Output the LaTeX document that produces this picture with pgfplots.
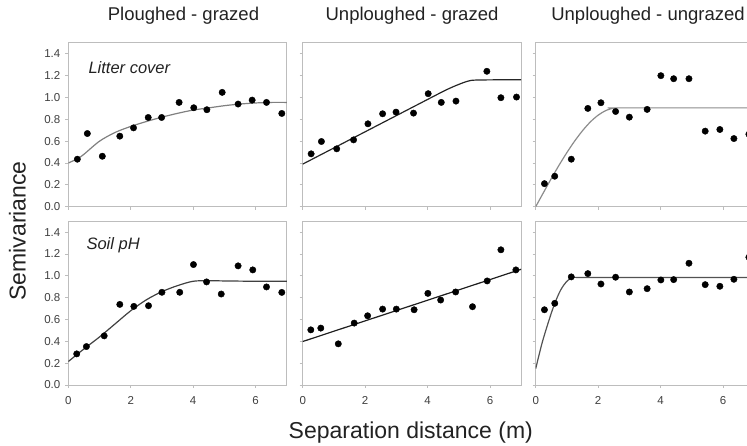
\documentclass[border=0pt]{standalone}
\usepackage{fontspec}
\setmainfont{Liberation Sans}
\usepackage{pgfplots}
\pgfplotsset{compat=1.18}
\definecolor{frame}{HTML}{BDBDBD}
\definecolor{ticktext}{HTML}{404040}
\definecolor{ink}{HTML}{222222}

\pgfplotsset{
  panel/.style={
    scale only axis, width=218.5pt, height=163.8pt,
    xmin=0, xmax=7, ymin=0, ymax=1.5,
    xtick={0,2,4,6}, ytick={0,0.2,0.4,0.6,0.8,1.0,1.2,1.4},
    xticklabels={}, yticklabels={},
    tick pos=left, tick align=outside, major tick length=3pt,
    axis line style={frame, line width=0.8pt},
    tick style={frame, line width=0.8pt},
    ticklabel style={font=\fontsize{11.5}{13}\selectfont, text=ticktext},
    xticklabel style={yshift=-5pt},
    yticklabel style={xshift=-1.5pt},
  },
  xlab/.style={xticklabels={0,2,4,6}},
  ylab/.style={yticklabels={0.0,0.2,0.4,0.6,0.8,1.0,1.2,1.4}},
  dots/.style={only marks, mark=*, mark size=3.2pt, black},
  fit/.style={no marks, smooth, line width=1.2pt},
}
\tikzset{tag/.style={anchor=base west, text=ink, font=\itshape\fontsize{16.5}{18}\selectfont}}

\begin{document}
\begin{tikzpicture}
\useasboundingbox (0,0) rectangle (747pt,445pt);

% top row: litter cover
\begin{axis}[panel, ylab, at={(68.3pt,238.3pt)}, anchor=south west]
  \addplot[dots] coordinates {
    (0.29,0.435) (0.61,0.67) (1.09,0.462) (1.65,0.646) (2.09,0.722)
    (2.56,0.817) (2.99,0.817) (3.55,0.955) (4.02,0.906) (4.44,0.888)
    (4.93,1.047) (5.44,0.94) (5.89,0.976) (6.35,0.955) (6.84,0.854)
  };
  \addplot[fit, color=black!50] coordinates {
    (0,0.40) (0.3,0.44) (0.5,0.48) (1.0,0.60) (1.5,0.68) (2.0,0.735)
    (2.5,0.78) (3.0,0.82) (3.5,0.855) (4.0,0.885) (4.5,0.905) (5.0,0.925)
    (5.5,0.94) (6.0,0.95) (6.5,0.955) (7.0,0.955)
  };
  \node[tag] at (axis cs:0.535,1.219) {Litter cover};
\end{axis}

\begin{axis}[panel, at={(302.7pt,238.3pt)}, anchor=south west]
  \addplot[dots] coordinates {
    (0.27,0.484) (0.60,0.597) (1.09,0.53) (1.63,0.612) (2.09,0.759)
    (2.56,0.851) (2.99,0.866) (3.55,0.857) (4.02,1.035) (4.44,0.955)
    (4.91,0.967) (5.90,1.24) (6.35,0.998) (6.85,1.004)
  };
  \addplot[fit, color=black!85] coordinates {
    (0,0.39) (1,0.538) (2,0.686) (3,0.834) (4,0.982) (4.6,1.07)
    (5.0,1.12) (5.3,1.15) (5.6,1.16) (7,1.163)
  };
\end{axis}

\begin{axis}[panel, at={(535.7pt,238.3pt)}, anchor=south west]
  \addplot[dots] coordinates {
    (0.28,0.211) (0.61,0.279) (1.14,0.435) (1.67,0.90) (2.09,0.952)
    (2.56,0.872) (3.0,0.82) (3.57,0.891) (4.01,1.20) (4.42,1.172)
    (4.91,1.172) (5.43,0.692) (5.90,0.707) (6.35,0.624) (6.83,0.664)
  };
  \addplot[fit, color=black!45] coordinates {
    (0,0) (0.25,0.130) (0.5,0.258) (0.75,0.381) (1.0,0.496) (1.25,0.602)
    (1.5,0.696) (1.75,0.776) (2.0,0.838) (2.25,0.881) (2.5,0.903)
    (2.6,0.905) (7,0.905)
  };
\end{axis}

% bottom row: soil pH
\begin{axis}[panel, xlab, ylab, at={(68.3pt,60pt)}, anchor=south west]
  \addplot[dots] coordinates {
    (0.27,0.285) (0.58,0.352) (1.15,0.45) (1.65,0.738) (2.10,0.72)
    (2.57,0.726) (3.0,0.849) (3.57,0.849) (4.01,1.103) (4.43,0.944)
    (4.90,0.833) (5.44,1.091) (5.91,1.054) (6.35,0.898) (6.84,0.848)
  };
  \addplot[fit, color=black!75] coordinates {
    (0,0.215) (0.5,0.33) (1.0,0.44) (1.5,0.56) (2.0,0.68) (2.5,0.78)
    (3.0,0.855) (3.5,0.91) (4.0,0.95) (4.5,0.955) (5,0.953) (6,0.95) (7,0.95)
  };
  \node[tag] at (axis cs:0.47,1.24) {Soil pH};
\end{axis}

\begin{axis}[panel, xlab, at={(302.7pt,60pt)}, anchor=south west]
  \addplot[dots] coordinates {
    (0.26,0.505) (0.58,0.521) (1.14,0.377) (1.65,0.567) (2.08,0.634)
    (2.56,0.695) (3.0,0.695) (3.57,0.689) (4.01,0.839) (4.42,0.778)
    (4.90,0.852) (5.44,0.717) (5.91,0.953) (6.35,1.238) (6.83,1.054)
  };
  \addplot[fit, color=black!88] coordinates {(0,0.398) (7,1.06)};
\end{axis}

\begin{axis}[panel, xlab, at={(535.7pt,60pt)}, anchor=south west]
  \addplot[dots] coordinates {
    (0.28,0.689) (0.61,0.748) (1.14,0.99) (1.67,1.02) (2.09,0.925)
    (2.56,0.987) (3.0,0.852) (3.57,0.882) (4.01,0.962) (4.42,0.965)
    (4.91,1.115) (5.43,0.919) (5.90,0.904) (6.35,0.968) (6.83,1.17)
  };
  \addplot[fit, color=black!68] coordinates {
    (0,0.15) (0.2,0.38) (0.4,0.57) (0.6,0.74) (0.8,0.87) (1.0,0.95)
    (1.2,0.985) (1.6,0.985) (7,0.985)
  };
\end{axis}

% column titles and shared labels
\begin{scope}[every node/.style={text=ink, font=\fontsize{18.5}{20}\selectfont, anchor=base}]
  \node at (183.5pt,424.3pt) {Ploughed - grazed};
  \node at (412pt,424.3pt) {Unploughed - grazed};
  \node at (648pt,424.3pt) {Unploughed - ungrazed};
\end{scope}
\node[text=ink, font=\fontsize{23}{25}\selectfont, anchor=base] at (410.8pt,6.7pt) {Separation distance (m)};
\node[text=ink, font=\fontsize{23}{25}\selectfont, anchor=base, rotate=90] at (25.5pt,214pt) {Semivariance};
\end{tikzpicture}
\end{document}
